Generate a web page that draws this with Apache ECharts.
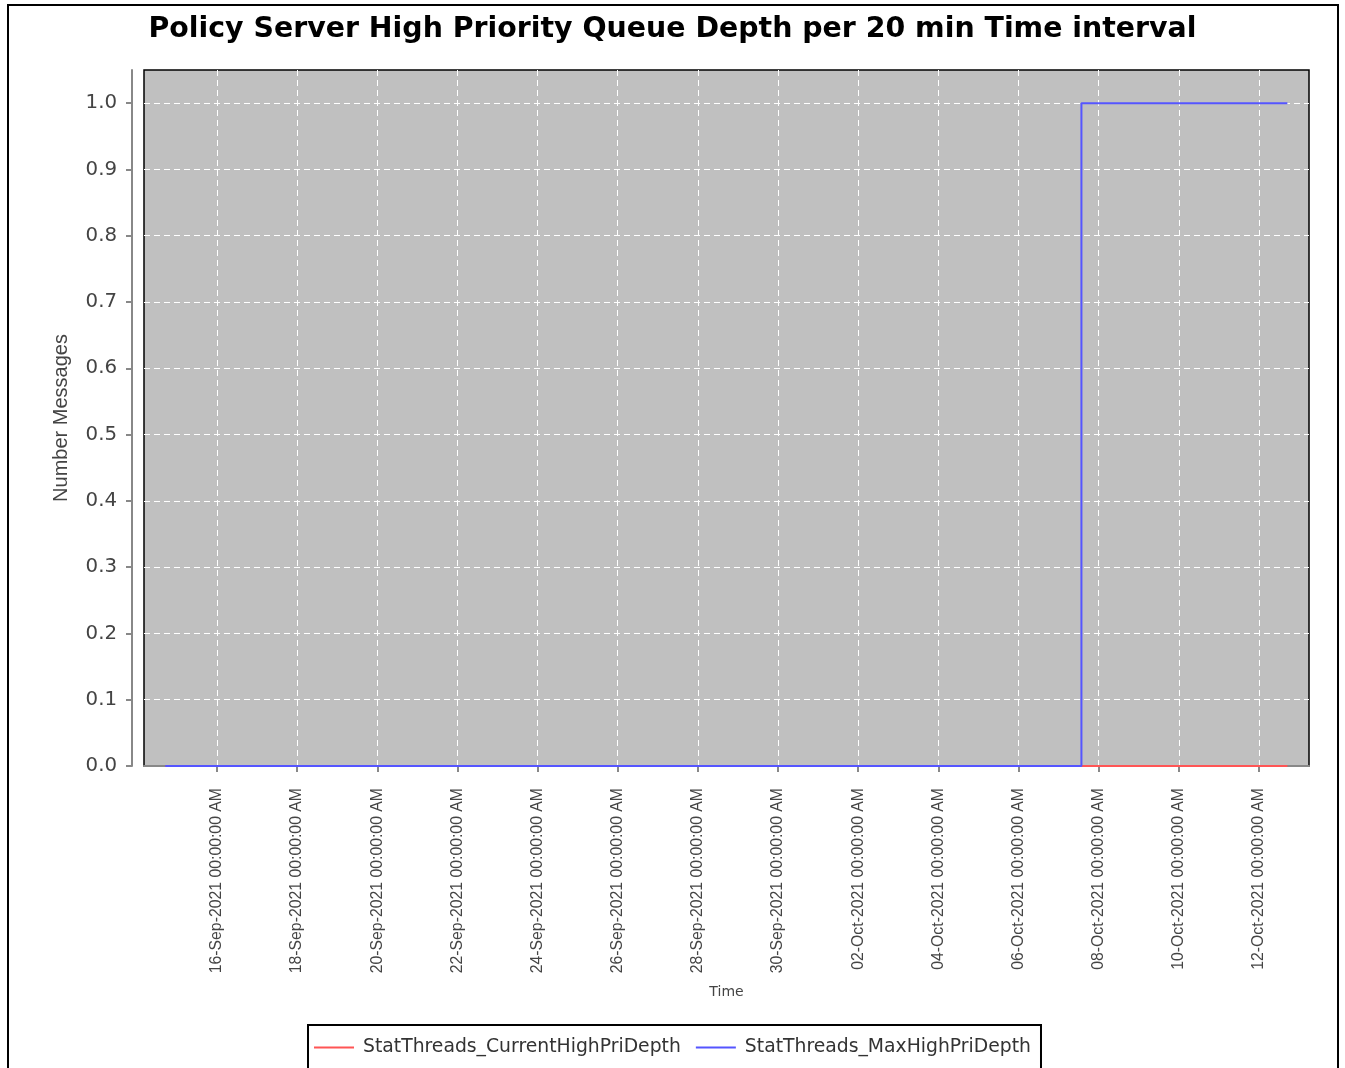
<!DOCTYPE html>
<html>
<head>
<meta charset="utf-8">
<script src="https://cdn.jsdelivr.net/npm/echarts@6/dist/echarts.min.js"></script>
<style>
  html, body { margin: 0; padding: 0; background: #fff; }
  #chart { width: 1345px; height: 1068px; }
</style>
</head>
<body>
<div id="chart"></div>
<script>
// tick labels on the time axis (every 2 days)
var tickDates = ['16-Sep-2021', '18-Sep-2021', '20-Sep-2021', '22-Sep-2021', '24-Sep-2021',
    '26-Sep-2021', '28-Sep-2021', '30-Sep-2021', '02-Oct-2021', '04-Oct-2021',
    '06-Oct-2021', '08-Oct-2021', '10-Oct-2021', '12-Oct-2021'];
var yTicks = [0, 0.1, 0.2, 0.3, 0.4, 0.5, 0.6, 0.7, 0.8, 0.9, 1.0];

// series
var timesCurrent = ['2021-09-14T17:00:00Z', '2021-10-12T17:00:00Z'];
var valuesCurrent = [0, 0];
var timesMax = ['2021-09-14T17:00:00Z', '2021-10-07T13:40:00Z', '2021-10-07T13:40:00Z', '2021-10-12T17:00:00Z'];
var valuesMax = [0, 0, 1, 1];

var xMin = '2021-09-14T04:18:00Z';
var xMax = '2021-10-13T05:57:00Z';

var months = {Jan: 0, Feb: 1, Mar: 2, Apr: 3, May: 4, Jun: 5, Jul: 6, Aug: 7, Sep: 8, Oct: 9, Nov: 10, Dec: 11};
function parseTick(s) {
    var p = s.split('-');
    return Date.UTC(+p[2], months[p[1]], +p[0]);
}
var tickValues = tickDates.map(parseTick);

function pairs(times, values) {
    return times.map(function (t, i) { return [Date.parse(t), values[i]]; });
}

// horizontal texts in the picture are wide, rotated ones are narrow
var wide = 'DejaVu Sans, sans-serif';
var narrow = 'Liberation Sans, Arial, sans-serif';
var myChart = echarts.init(document.getElementById('chart'));
var option = {
    animation: false,
    textStyle: {fontFamily: narrow},
    title: {
        text: 'Policy Server High Priority Queue Depth per 20 min Time interval',
        left: 'center',
        top: 16,
        padding: 0,
        textStyle: {fontSize: 28.4, fontWeight: 'bold', color: '#000', fontFamily: wide}
    },
    graphic: [{
        type: 'rect',
        shape: {x: 8, y: 5, width: 1330, height: 1100},
        style: {fill: 'none', stroke: '#000', lineWidth: 2},
        silent: true
    }],
    legend: {
        bottom: -22,
        left: 'center',
        padding: [13, 10, 33, 6],
        borderColor: '#000',
        borderWidth: 2,
        icon: 'rect',
        itemWidth: 40,
        itemHeight: 2,
        itemGap: 15,
        textStyle: {fontSize: 18.8, color: '#333', fontFamily: wide, padding: [0, 0, 0, 4]},
        data: ['StatThreads_CurrentHighPriDepth', 'StatThreads_MaxHighPriDepth']
    },
    grid: {
        left: 144,
        right: 36,
        top: 70,
        bottom: 302,
        show: true,
        backgroundColor: '#c0c0c0',
        borderColor: '#000',
        borderWidth: 1.5
    },
    xAxis: {
        type: 'value',
        min: Date.parse(xMin),
        max: Date.parse(xMax),
        offset: 11,
        name: 'Time',
        nameLocation: 'middle',
        nameGap: 208,
        nameTextStyle: {fontSize: 14, color: '#444', fontFamily: wide},
        axisLine: {lineStyle: {color: '#888', width: 2}},
        axisTick: {show: true, length: 6, lineStyle: {color: '#888', width: 2}, customValues: tickValues},
        axisLabel: {
            customValues: tickValues,
            rotate: 90,
            margin: 11,
            fontSize: 15.8,
            color: '#444',
            fontFamily: narrow,
            formatter: function (v) {
                var i = tickValues.indexOf(v);
                return i >= 0 ? tickDates[i] + ' 00:00:00 AM' : '';
            }
        },
        splitLine: {show: true, lineStyle: {color: '#fff', type: [6, 4], width: 1}}
    },
    yAxis: {
        type: 'value',
        min: 0,
        max: 1.05,
        offset: 12,
        name: 'Number Messages',
        nameLocation: 'middle',
        nameGap: 61,
        nameTextStyle: {fontSize: 20, color: '#444', fontFamily: narrow},
        axisLine: {show: true, lineStyle: {color: '#888', width: 2}},
        axisTick: {show: true, length: 6, lineStyle: {color: '#888', width: 2}, customValues: yTicks},
        axisLabel: {
            customValues: yTicks,
            margin: 15,
            fontSize: 19.8,
            color: '#444',
            fontFamily: wide,
            formatter: function (v) { return v.toFixed(1); }
        },
        splitLine: {show: true, lineStyle: {color: '#fff', type: [6, 4], width: 1}}
    },
    series: [
        {
            name: 'StatThreads_CurrentHighPriDepth',
            type: 'line',
            symbol: 'none',
            color: '#ff5555',
            lineStyle: {width: 2},
            data: pairs(timesCurrent, valuesCurrent)
        },
        {
            name: 'StatThreads_MaxHighPriDepth',
            type: 'line',
            symbol: 'none',
            color: '#5555ff',
            lineStyle: {width: 2},
            data: pairs(timesMax, valuesMax)
        }
    ]
};
myChart.setOption(option);
</script>
</body>
</html>
